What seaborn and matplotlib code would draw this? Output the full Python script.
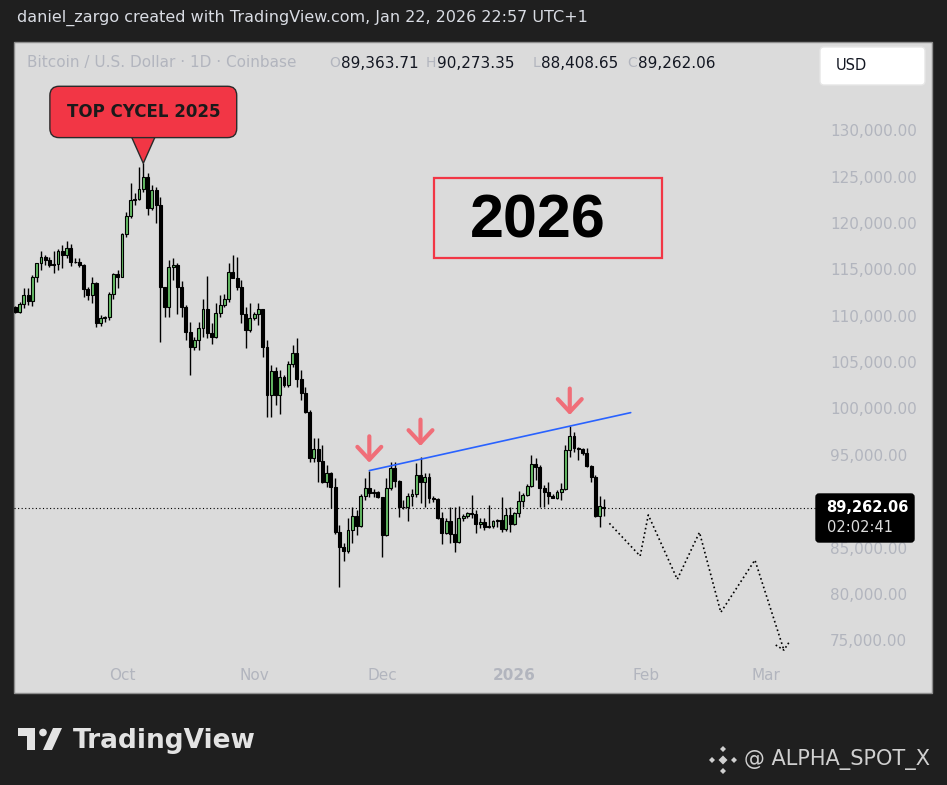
import matplotlib
matplotlib.use("Agg")
import matplotlib.pyplot as plt
import matplotlib.dates as mdates
from matplotlib.patches import Rectangle, FancyBboxPatch, Polygon, Circle, RegularPolygon
from matplotlib.transforms import Affine2D
from matplotlib.ticker import FuncFormatter
import numpy as np
import pandas as pd
import seaborn as sns

W, H = 947, 785

# daily BTC/USD candles (Coinbase), one per day starting at first_day
first_day = "2025-09-06"
opens = [110900, 110400, 111230, 112200, 111630, 114140, 115650, 116300, 116010, 115440,
         115580, 116990, 116590, 117270, 115830, 115800, 115440, 112850, 112200, 113570,
         109180, 109790, 109850, 112350, 114500, 114220, 118820, 120760, 122490, 122590,
         123670, 124930, 121590, 123560, 121950, 113060, 110910, 115220, 115470, 113140,
         110910, 108280, 106590, 107380, 108710, 110690, 108100, 107670, 110260, 111160,
         111770, 114680, 114110, 113060, 110190, 108460, 109720, 110150, 110690, 106660,
         101450, 104040, 101450, 103360, 102530, 104760, 106020, 103140, 101700, 99650,
         94620, 95590, 94330, 92100, 93000, 91490, 86640, 85090, 84660, 86890,
         88400, 87350, 90560, 91380, 90920, 90950, 90410, 86350, 91380, 93610,
         92170, 89400, 89350, 90560, 90770, 92820, 92100, 92640, 90300, 90250,
         88220, 86530, 87890, 86460, 85560, 88150, 88400, 88690, 88650, 87500,
         87710, 87250, 87300, 87860, 87970, 86960, 88500, 87530, 88760, 90020,
         90660, 91630, 94010, 93720, 91380, 91020, 90560, 90380, 91020, 91310,
         95520, 97030, 95700, 95650, 95160, 93790, 92640, 88400, 89363.71]
highs = [111100, 111520, 113030, 112960, 114400, 115730, 116990, 116550, 116370, 117020,
         117160, 117630, 118100, 117740, 116190, 116190, 115580, 113140, 114140, 113680,
         110080, 109970, 112600, 114650, 114940, 118960, 121230, 124280, 123200, 126080,
         126440, 125430, 124100, 123920, 122850, 113140, 116010, 116190, 115650, 113750,
         111160, 109360, 107740, 109360, 111770, 114290, 109180, 111410, 112240, 112310,
         115730, 116550, 116370, 113860, 110980, 111340, 110440, 111340, 110750, 107380,
         104690, 104510, 104150, 103610, 105160, 106850, 107560, 104150, 102350, 99830,
         96780, 96780, 96060, 93900, 93180, 92460, 87430, 85450, 88150, 89400,
         89050, 90770, 92500, 93300, 91270, 91050, 90480, 92460, 94260, 94260,
         92300, 90120, 90920, 91270, 94080, 94730, 93000, 93000, 90590, 90380,
         88870, 88150, 89400, 89400, 89480, 88580, 88870, 90660, 89050, 88150,
         88150, 89580, 87970, 88040, 90480, 89220, 89330, 88870, 91090, 90920,
         91850, 94980, 94620, 93900, 91740, 92100, 90770, 91200, 91990, 96060,
         98110, 97500, 95880, 95750, 95700, 93900, 92820, 90560, 90273.35]
lows = [110300, 110260, 110800, 111160, 111050, 113680, 114940, 115480, 115300, 114650,
        114940, 115120, 116190, 115370, 115650, 115300, 111990, 111700, 111340, 108820,
        108890, 109360, 109540, 111770, 112960, 114220, 118530, 120510, 121950, 122490,
        123380, 120870, 121410, 119970, 107200, 109900, 109900, 113860, 110150, 109900,
        107380, 103610, 106300, 106300, 107740, 107560, 106950, 107560, 109900, 110980,
        111520, 114040, 112780, 109180, 106480, 108280, 109540, 109000, 105590, 99110,
        99110, 100370, 99400, 102350, 102350, 104510, 102350, 100910, 99500, 94260,
        94260, 92100, 92000, 91560, 89220, 86500, 80700, 83580, 84370, 85450,
        86350, 87200, 90120, 90480, 90480, 90300, 83940, 86280, 91200, 91560,
        88330, 89150, 87890, 89510, 90480, 89760, 89400, 89760, 89940, 88100,
        85340, 86460, 85450, 84550, 85450, 87890, 88220, 88150, 86600, 87070,
        86890, 87070, 87070, 87250, 86710, 86780, 86710, 87400, 88330, 89330,
        90590, 91490, 92280, 89400, 89330, 89690, 90300, 90230, 90120, 91200,
        94730, 95340, 94440, 95000, 93700, 92100, 88250, 87250, 88408.65]
closes = [110400, 111230, 112200, 111630, 114140, 115650, 116300, 116010, 115440, 115580,
          116990, 116590, 117270, 115830, 115800, 115440, 112850, 112200, 113570, 109180,
          109790, 109850, 112350, 114500, 114220, 118820, 120760, 122490, 122590, 123670,
          124930, 121590, 123560, 121950, 113060, 110910, 115220, 115470, 113140, 110910,
          108280, 106590, 107380, 108710, 110690, 108100, 107670, 110260, 111160, 111770,
          114680, 114110, 113060, 110190, 108460, 109720, 110150, 110690, 106660, 101450,
          104040, 101450, 103360, 102530, 104760, 106020, 103140, 101700, 99650, 94620,
          95590, 94330, 92100, 93000, 91490, 86640, 85090, 84660, 86890, 88400,
          87350, 90560, 91380, 90920, 90950, 90410, 86350, 91380, 93610, 92170,
          89400, 89350, 90560, 90770, 92820, 92100, 92640, 90300, 90250, 88220,
          86530, 87890, 86460, 85560, 88150, 88400, 88690, 88650, 87500, 87710,
          87250, 87300, 87860, 87970, 86960, 88500, 87530, 88760, 90020, 90660,
          91630, 94010, 93720, 91380, 91020, 90560, 90380, 91020, 91310, 95520,
          97030, 95700, 95650, 95160, 93790, 92640, 88400, 89480, 89262.06]

last_price = 89262.06
countdown = "02:02:41"

# resistance line drawn over the three highs
trend_dates = ["2025-11-28 00:00", "2026-01-28 07:00"]
trend_prices = [93300, 99550]

# projected zig-zag path
proj_dates = ["2026-01-23 07:00", "2026-01-30 12:00", "2026-02-01 10:00", "2026-02-08 05:00",
              "2026-02-13 10:00", "2026-02-18 10:00", "2026-02-26 10:00", "2026-03-05 05:00"]
proj_prices = [87610, 84080, 88510, 81570, 86640, 78010, 83650, 73940]
proj_tip_dates = ["2026-03-03 07:00", "2026-03-05 05:00", "2026-03-06 10:00"]
proj_tip_prices = [74480, 73940, 74770]

# red "down" arrows marking the highs
arrow_dates = ["2025-11-28", "2025-12-10", "2026-01-14"]
arrow_prices = [94150, 95950, 99300]

month_ticks = ["2025-10-01", "2025-11-01", "2025-12-01", "2026-01-01", "2026-02-01", "2026-03-01"]
month_labels = ["Oct", "Nov", "Dec", "2026", "Feb", "Mar"]
# 90,000 sits under the last-price label, so it is not shown
price_ticks = [75000, 80000, 85000, 95000, 100000, 105000, 110000, 115000, 120000, 125000, 130000]

sns.set_theme(style="white")
plt.rcParams["font.family"] = ["DejaVu Sans"]

BG = "#1f1f1f"
PANEL = "#dbdbdb"
FAINT = "#b2b5be"
GREEN = "#66bd66"
RED = "#f23645"
ARROW = "#f06e78"


def fx(x):
    return x / W


def fy(y):
    return 1 - y / H


fig = plt.figure(figsize=(W / 100, H / 100), dpi=100, facecolor=BG)
PX = Affine2D().scale(1 / 100.) + fig.dpi_scale_trans  # pixel units from bottom-left

fig.add_artist(Rectangle((fx(14), fy(693)), fx(932) - fx(14), fy(42) - fy(693),
                         transform=fig.transFigure, facecolor=PANEL, edgecolor="#8e8e8e",
                         lw=1, zorder=-2))

ax = fig.add_axes([fx(14), fy(660), fx(818) - fx(14), fy(42) - fy(660)])
ax.patch.set_visible(False)

df = pd.DataFrame({
    "date": pd.date_range(first_day, periods=len(opens), freq="D"),
    "open": opens, "high": highs, "low": lows, "close": closes,
})
up = df["close"] >= df["open"]

# candles
ax.vlines(df["date"], df["low"], df["high"], color="black", lw=1, zorder=2)
ax.bar(df["date"], (df["close"] - df["open"]).abs(), bottom=df[["open", "close"]].min(axis=1),
       width=0.68, color=np.where(up, GREEN, "black"), edgecolor="black", linewidth=0.8, zorder=3)

ax.axhline(last_price, color="black", lw=0.8, ls=(0, (1, 2.2)), zorder=1)

sns.lineplot(x=pd.to_datetime(trend_dates), y=trend_prices, ax=ax, color="#2962ff", lw=1.2, zorder=4)
sns.lineplot(x=pd.to_datetime(proj_dates), y=proj_prices, ax=ax, color="black", lw=1.2,
             linestyle=(0, (1, 1.7)), zorder=4)
sns.lineplot(x=pd.to_datetime(proj_tip_dates), y=proj_tip_prices, ax=ax, color="black", lw=1.2,
             linestyle=(0, (1, 1.5)), zorder=4)

for d, p in zip(arrow_dates, arrow_prices):
    ax.annotate("", xy=(mdates.date2num(pd.Timestamp(d)), p), xytext=(0, 19),
                textcoords="offset points",
                arrowprops=dict(arrowstyle="->,head_length=0.92,head_width=0.86", color=ARROW,
                                lw=3.0, shrinkA=0, shrinkB=0, mutation_scale=10), zorder=5)

ath = int(np.argmax(highs))
ax.annotate("TOP CYCEL 2025", xy=(mdates.date2num(df["date"][ath]), highs[ath]), xytext=(0, 37),
            textcoords="offset points", ha="center", va="center", fontsize=12,
            fontweight="bold", color="#1a1a1a", zorder=6,
            bbox=dict(boxstyle="round,pad=1.0,rounding_size=0.55", fc=RED, ec="#2a2a2a", lw=1),
            arrowprops=dict(arrowstyle="wedge,tail_width=2.75,shrink_factor=0.5", fc=RED,
                            ec="#2a2a2a", lw=1, patchA=None, shrinkA=0, shrinkB=0,
                            relpos=(0.5, 0.5)))

# axes look
ax.set_xlim(pd.Timestamp("2025-09-05 16:20"), pd.Timestamp("2026-03-13 05:00"))
ax.set_ylim(72866, 139529)
for s in ax.spines.values():
    s.set_visible(False)
ax.grid(False)
ax.yaxis.tick_right()
ax.set_yticks(price_ticks)
ax.yaxis.set_major_formatter(FuncFormatter(lambda v, _: f"{v:,.2f}"))
ax.tick_params(axis="y", length=0, pad=8.6, labelsize=11, labelcolor=FAINT)
ax.set_xticks([mdates.date2num(pd.Timestamp(t)) for t in month_ticks])
ax.set_xticklabels(month_labels)
ax.tick_params(axis="x", length=0, pad=6, labelsize=11, labelcolor=FAINT)
ax.get_xticklabels()[3].set_fontweight("bold")
ax.set_xlabel("")
ax.set_ylabel("")

# header
fig.text(fx(17), fy(18), "daniel_zargo created with TradingView.com, Jan 22, 2026 22:57 UTC+1",
         color="#d9dce3", fontsize=11.5, va="center")
fig.text(fx(27), fy(63), "Bitcoin / U.S. Dollar \u00b7 1D \u00b7 Coinbase", color=FAINT,
         fontsize=11, va="center")
ohlc = [opens[-1], highs[-1], lows[-1], closes[-1]]
for letter, val, vx in zip("OHLC", ohlc, [341, 437, 541, 638]):
    fig.text(fx(vx - 1), fy(63), letter, color=FAINT, fontsize=10, va="center", ha="right")
    fig.text(fx(vx), fy(63), f"{val:,.2f}", color="#131722", fontsize=11, va="center")

# USD box
fig.add_artist(FancyBboxPatch((820, H - 85), 105, 38, boxstyle="round,pad=0,rounding_size=4",
                              transform=PX, fc="white", ec="#e6e6e6", lw=1))
fig.text(fx(836), fy(66), "USD", color="#131722", fontsize=10.5, va="center")

# last price label
fig.add_artist(FancyBboxPatch((816, H - 542), 98, 48, boxstyle="round,pad=0,rounding_size=3",
                              transform=PX, fc="black", ec="black", lw=1))
fig.text(fx(826), fy(507), f"{last_price:,.2f}", color="white", fontsize=10.5,
         fontweight="bold", va="center")
fig.text(fx(827), fy(527), countdown, color="#dcdcdc", fontsize=10.5, va="center")

# 2026 box
fig.add_artist(Rectangle((434, H - 258), 228, 80, transform=PX, fill=False, ec=RED, lw=1.6))
fig.text(fx(538), fy(238), "2026", color="black", fontsize=44, fontweight="bold",
         family=["Liberation Sans", "DejaVu Sans"], ha="center", va="baseline")

# footer: TradingView logo and watermark
LOGO = "#e3e3e3"
fig.add_artist(Polygon([(18, H - 728), (35, H - 728), (35, H - 750), (27, H - 750), (27, H - 736),
                        (18, H - 736)], closed=True, transform=PX, fc=LOGO, ec="none"))
fig.add_artist(Circle((43, H - 732.5), 3.8, transform=PX, fc=LOGO, ec="none"))
fig.add_artist(Polygon([(43, H - 750), (53, H - 728), (62, H - 728), (52, H - 750)], closed=True,
                       transform=PX, fc=LOGO, ec="none"))
fig.text(fx(73), fy(741), "TradingView", color=LOGO, fontsize=19, fontweight="bold",
         va="center")

for cx, cy, r in [(723, 760, 4.5), (723, 749, 3), (723, 771, 3), (712, 760, 3), (734, 760, 3)]:
    fig.add_artist(RegularPolygon((cx, H - cy), 4, radius=r, transform=PX, fc="#cfcfcf", ec="none"))
fig.text(fx(744), fy(760), "@ ALPHA_SPOT_X", color="#d0d0d0", fontsize=15, va="center")

fig.savefig("out.png", dpi=100, facecolor=fig.get_facecolor())
